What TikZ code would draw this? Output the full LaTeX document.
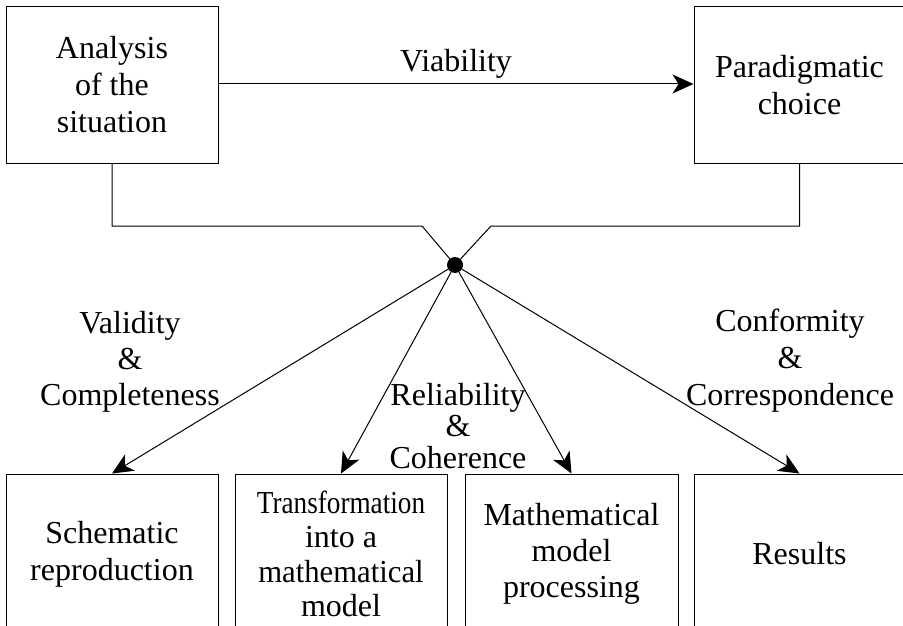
\documentclass[tikz,border=0pt]{standalone}
\usepackage{fontspec}
\setmainfont{Liberation Serif}
\usetikzlibrary{arrows.meta}
\begin{document}
\begin{tikzpicture}[x=1pt,y=-1pt,
  box/.style={draw, line width=1pt, inner sep=0pt, align=center,
    font=\fontsize{32}{37}\selectfont},
  lbl/.style={inner sep=0pt, align=center, font=\fontsize{32}{37}\selectfont},
  wire/.style={line width=1pt},
  arr/.style={wire, -{Stealth[length=21pt,width=19pt,inset=6pt]}},
  hubdot/.style={circle, fill=black, inner sep=0pt, minimum size=16pt}]
\useasboundingbox (0,0) rectangle (903,626);

% upper boxes
\node[box, minimum width=212pt, minimum height=156pt] (ana) at (112,85)
  {Analysis\\of the\\situation};
\node[box, minimum width=211pt, minimum height=156pt] (par) at (799.5,85)
  {Paradigmatic\\choice};

% lower boxes (open towards the bottom edge)
\node[box, minimum width=212pt, minimum height=160pt] (sch) at (112,554)
  {Schematic\\reproduction};
\node[box, minimum width=212pt, minimum height=160pt,
  font=\fontsize{32}{34.5}\selectfont] (tra) at (341,554)
  {\scalebox{0.85}[1]{Transformation}\\into a\\\scalebox{0.96}[1]{mathematical}\\model};
\node[box, minimum width=213pt, minimum height=160pt,
  font=\fontsize{32}{36}\selectfont] (mat) at (571.5,554)
  {Mathematical\\model\\processing};
\node[box, minimum width=211pt, minimum height=160pt] (res) at (799.5,554)
  {Results};

% junction
\node[hubdot] (hub) at (455,265) {};
\coordinate (jl) at (422,226);
\coordinate (jr) at (491,226);

% connectors
\draw[arr] (ana.east |- 0,84) -- (par.west |- 0,84);
\draw[wire] (ana.south) |- (jl) -- (hub);
\draw[wire] (par.south) |- (jr) -- (hub);
\draw[arr] (hub) -- (sch.north);
\draw[arr] (hub) -- (tra.north);
\draw[arr] (hub) -- (mat.north);
\draw[arr] (hub) -- (res.north);

% labels
\node[lbl] (via) at (456,64) {Viability};
\node[lbl, font=\fontsize{32}{36}\selectfont] (vc) at (130,362)
  {Validity\\\&\\Completeness};
\node[lbl, font=\fontsize{32}{31.5}\selectfont] (rc) at (458,426)
  {Reliability\\\&\\Coherence};
\node[lbl] (cc) at (790,361)
  {Conformity\\\&\\Correspondence};
\end{tikzpicture}
\end{document}
